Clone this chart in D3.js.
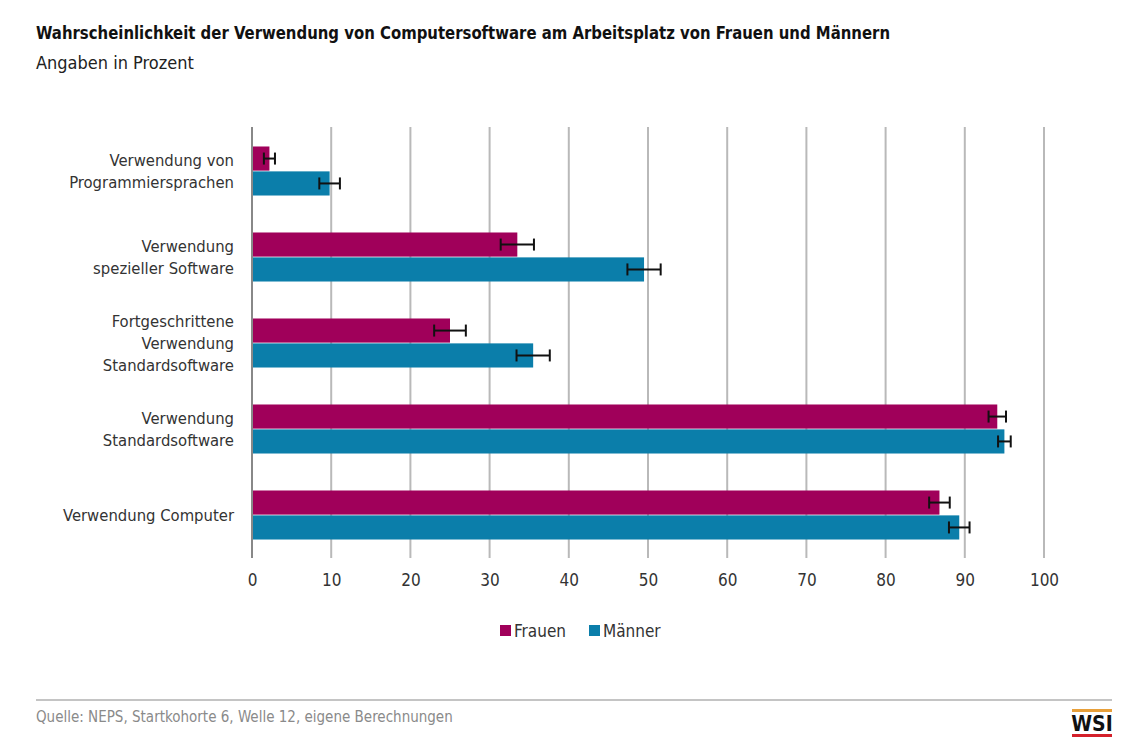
<!DOCTYPE html>
<html lang="de">
<head>
<meta charset="UTF-8">
<title>Computersoftware am Arbeitsplatz</title>
<script src="https://cdnjs.cloudflare.com/ajax/libs/d3/7.8.5/d3.min.js"></script>
<style>
  body { margin: 0; background: #fff; }
  text { font-family: "DejaVu Sans", sans-serif; font-stretch: condensed; }
</style>
</head>
<body>
<svg id="chart" width="1128" height="754"></svg>
<script>
// data
const categories = [
  "Verwendung von|Programmiersprachen",
  "Verwendung|spezieller Software",
  "Fortgeschrittene|Verwendung|Standardsoftware",
  "Verwendung|Standardsoftware",
  "Verwendung Computer"
];
const series = ["Frauen", "Männer"];
const frauen = [2.2, 33.5, 25.0, 94.1, 86.8];
const maenner = [9.8, 49.5, 35.5, 95.0, 89.3];
const frauenErr = [0.7, 2.1, 2.0, 1.1, 1.3];
const maennerErr = [1.3, 2.1, 2.1, 0.8, 1.3];
const xTicks = [0, 10, 20, 30, 40, 50, 60, 70, 80, 90, 100];

const colors = { "Frauen": "#a0005a", "Männer": "#0b7eaa" };

const svg = d3.select("#chart");

// title
svg.append("text").attr("x", 36).attr("y", 39)
  .attr("font-size", 18).attr("font-weight", "bold").attr("fill", "#111")
  .attr("textLength", 854).attr("lengthAdjust", "spacingAndGlyphs")
  .text("Wahrscheinlichkeit der Verwendung von Computersoftware am Arbeitsplatz von Frauen und Männern");
svg.append("text").attr("x", 36).attr("y", 69)
  .attr("font-size", 18).attr("fill", "#222")
  .text("Angaben in Prozent");

const x = d3.scaleLinear().domain([0, 100]).range([252, 1044]);
const y0 = d3.scaleBand().domain(categories).range([128, 558])
  .paddingInner(0.43).paddingOuter(0.215);
const y1 = d3.scaleBand().domain(series).range([0, y0.bandwidth()]).paddingInner(0.03);

// gridlines
svg.append("g").selectAll("line").data(xTicks.slice(1)).join("line")
  .attr("x1", d => x(d)).attr("x2", d => x(d))
  .attr("y1", 127).attr("y2", 558)
  .attr("stroke", "#b9b9b9").attr("stroke-width", 2);

// bottom axis (labels only)
const axis = svg.append("g").attr("transform", "translate(0,558)")
  .call(d3.axisBottom(x).tickValues(xTicks).tickSize(0).tickPadding(16));
axis.select(".domain").remove();
axis.selectAll("text").attr("font-size", 17).attr("fill", "#333")
  .attr("font-family", "'DejaVu Sans', sans-serif");

const rows = categories.map((c, i) => ({
  cat: c,
  vals: [
    { s: "Frauen", v: frauen[i], e: frauenErr[i] },
    { s: "Männer", v: maenner[i], e: maennerErr[i] }
  ]
}));

const groups = svg.append("g").selectAll("g").data(rows).join("g")
  .attr("transform", d => `translate(0,${y0(d.cat)})`);

groups.selectAll("rect").data(d => d.vals).join("rect")
  .attr("x", x(0)).attr("y", d => y1(d.s))
  .attr("width", d => x(d.v) - x(0)).attr("height", y1.bandwidth())
  .attr("fill", d => colors[d.s]);

// error bars
const err = groups.selectAll("g.err").data(d => d.vals).join("g").attr("class", "err")
  .attr("transform", d => `translate(0,${y1(d.s) + y1.bandwidth() / 2})`);
err.append("line")
  .attr("x1", d => x(d.v - d.e)).attr("x2", d => x(d.v + d.e))
  .attr("stroke", "#111").attr("stroke-width", 2);
err.selectAll("line.cap").data(d => [d.v - d.e, d.v + d.e]).join("line").attr("class", "cap")
  .attr("x1", d => x(d)).attr("x2", d => x(d)).attr("y1", -6).attr("y2", 6)
  .attr("stroke", "#111").attr("stroke-width", 2);

// zero axis line
svg.append("line").attr("x1", x(0)).attr("x2", x(0)).attr("y1", 127).attr("y2", 558)
  .attr("stroke", "#888").attr("stroke-width", 2);

// category labels
const lineH = 22;
svg.append("g").selectAll("text").data(categories).join("text")
  .attr("text-anchor", "end").attr("font-size", 16.5).attr("fill", "#333")
  .each(function (d) {
    const lines = d.split("|");
    const cy = y0(d) + y0.bandwidth() / 2;
    const top = cy - (lines.length - 1) * lineH / 2 + 6;
    d3.select(this).selectAll("tspan").data(lines).join("tspan")
      .attr("x", 234).attr("y", (l, j) => top + j * lineH).text(l => l);
  });

// legend
const legend = svg.append("g").attr("transform", "translate(500,631)");
const lx = [0, 89];
series.forEach((s, i) => {
  legend.append("rect").attr("x", lx[i]).attr("y", -6).attr("width", 11).attr("height", 11)
    .attr("fill", colors[s]);
  legend.append("text").attr("x", lx[i] + 14).attr("y", 6)
    .attr("font-size", 17).attr("fill", "#333").text(s);
});

// footer
svg.append("line").attr("x1", 36).attr("x2", 1112).attr("y1", 700).attr("y2", 700)
  .attr("stroke", "#c4c4c4").attr("stroke-width", 2);
svg.append("text").attr("x", 36).attr("y", 722)
  .attr("font-size", 15).attr("fill", "#8a8a8a")
  .text("Quelle: NEPS, Startkohorte 6, Welle 12, eigene Berechnungen");

// WSI logo
svg.append("rect").attr("x", 1072).attr("y", 709).attr("width", 40).attr("height", 3).attr("fill", "#e8a03a");
svg.append("text").attr("x", 1092).attr("y", 731).attr("text-anchor", "middle")
  .attr("font-size", 21).attr("font-weight", "bold").attr("fill", "#111").text("WSI");
svg.append("rect").attr("x", 1072).attr("y", 734).attr("width", 40).attr("height", 3).attr("fill", "#d4202a");
</script>
</body>
</html>
